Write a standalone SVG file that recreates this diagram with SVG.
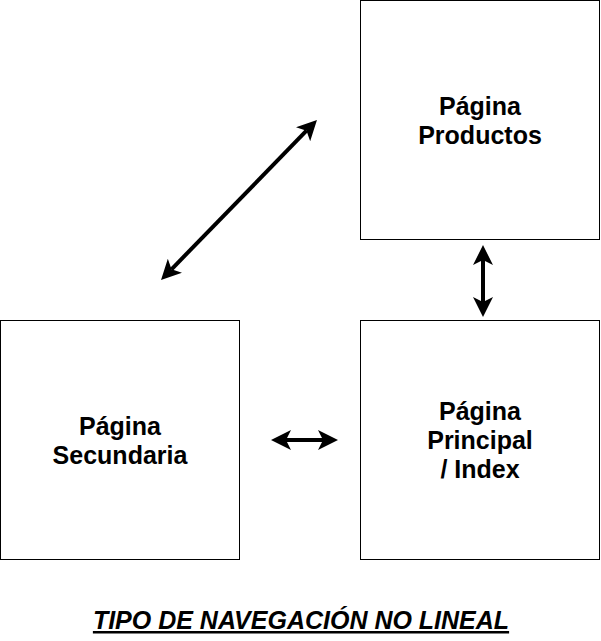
<svg xmlns="http://www.w3.org/2000/svg" width="601" height="641" viewBox="0 0 601 641">
<style>
.box{fill:#fff;stroke:#000;stroke-width:1}
.lbl{font-family:"Liberation Sans",Arial,sans-serif;font-weight:bold;font-size:25px;text-anchor:middle;fill:#000}
.conn{stroke:#000;stroke-width:4;fill:none;marker-start:url(#ah);marker-end:url(#ah)}
.title{font-family:"Liberation Sans",Arial,sans-serif;font-weight:bold;font-style:italic;font-size:25px;text-anchor:middle;text-decoration:underline;fill:#000}
</style>
<defs>
<marker id="ah" viewBox="0 0 20 20" markerUnits="userSpaceOnUse" markerWidth="20" markerHeight="20" refX="5" refY="10" orient="auto-start-reverse">
<path d="M0,0 L20,10 L0,20 L5,10 Z" fill="#000"/>
</marker>
</defs>
<rect width="601" height="641" fill="#fff"/>
<g id="productos">
<rect class="box" x="360.5" y="0.5" width="239" height="239"/>
<text class="lbl" x="480" y="115">Página</text>
<text class="lbl" x="480" y="144">Productos</text>
</g>
<g id="principal">
<rect class="box" x="360.5" y="320.5" width="239" height="239"/>
<text class="lbl" x="480" y="420">Página</text>
<text class="lbl" x="480" y="449">Principal</text>
<text class="lbl" x="480" y="478">/ Index</text>
</g>
<g id="secundaria">
<rect class="box" x="0.5" y="320.5" width="239" height="239"/>
<text class="lbl" x="120" y="435">Página</text>
<text class="lbl" x="120" y="464">Secundaria</text>
</g>
<g id="connectors">
<path class="conn" d="M171.5,269.3 L306.5,130.7"/>
<path class="conn" d="M483,260 L483,302"/>
<path class="conn" d="M286,440 L323,440"/>
</g>
<text class="title" x="301" y="629">TIPO DE NAVEGACIÓN NO LINEAL</text>
</svg>
